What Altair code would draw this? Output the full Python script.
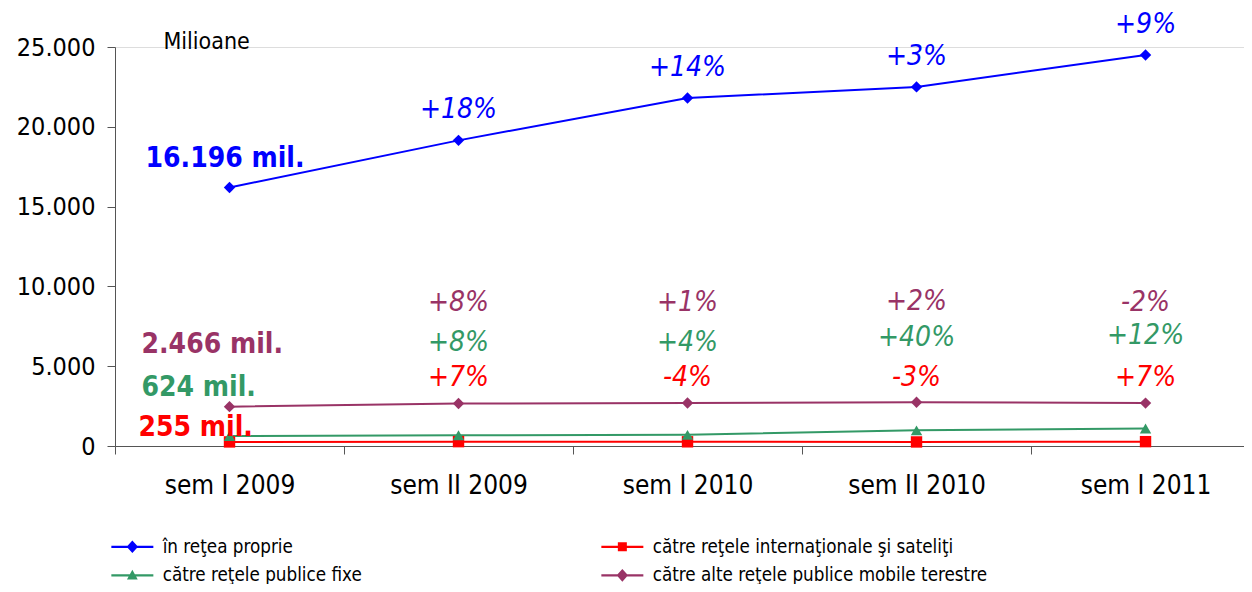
import json
import altair as alt
import pandas as pd

categories = ["sem I 2009", "sem II 2009", "sem I 2010", "sem II 2010", "sem I 2011"]
series = [
    "în reţea proprie",
    "către reţele internaţionale şi sateliţi",
    "către reţele publice fixe",
    "către alte reţele publice mobile terestre",
]
colors = ["#0000FF", "#FF0000", "#339966", "#993366"]

v_proprie = [16196, 19150, 21800, 22500, 24500]
v_internat = [255, 273, 262, 254, 272]
v_fixe = [624, 674, 701, 981, 1099]
v_mobile = [2466, 2663, 2690, 2744, 2689]

p_proprie = ["", "+18%", "+14%", "+3%", "+9%"]
p_internat = ["", "+7%", "-4%", "-3%", "+7%"]
p_fixe = ["", "+8%", "+4%", "+40%", "+12%"]
p_mobile = ["", "+8%", "+1%", "+2%", "-2%"]

values = [v_proprie, v_internat, v_fixe, v_mobile]
pcts = [p_proprie, p_internat, p_fixe, p_mobile]

rows = []
for s, vals, pc in zip(series, values, pcts):
    for i, (v, p) in enumerate(zip(vals, pc)):
        start = (f"{v:,}".replace(",", ".") + " mil.") if i == 0 else ""
        rows.append({"serie": s, "idx": i, "cat": categories[i], "v": v, "pct": p, "start": start})
df = pd.DataFrame(rows)

FONT = "DejaVu Sans Condensed, DejaVu Sans"

cats_js = json.dumps(categories)
x_enc = alt.X(
    "idx:Q",
    scale=alt.Scale(domain=[-0.5, 4.43], nice=False, zero=False),
    axis=alt.Axis(
        title=None,
        values=[-0.5, 0, 0.5, 1, 1.5, 2, 2.5, 3, 3.5, 4],
        labelExpr=f"datum.value % 1 === 0 ? {cats_js}[datum.value] : ''",
        tickOpacity={"condition": {"test": "datum.value % 1 !== 0", "value": 1}, "value": 0},
        tickSize=8,
        tickColor="#555555",
        domainColor="#555555",
        labelFontSize=26,
        labelFont=FONT,
        labelColor="#000000",
        labelPadding=18,
        grid=False,
        labelFlush=False,
        labelOverlap=False,
    ),
)
y_enc = alt.Y(
    "v:Q",
    scale=alt.Scale(domain=[0, 25000], nice=False),
    axis=alt.Axis(
        title="Milioane",
        titleAngle=0,
        titleAlign="left",
        titleBaseline="middle",
        titleX=48,
        titleY=-6,
        titleFontSize=23,
        titleFontWeight="normal",
        titleFont=FONT,
        values=[0, 5000, 10000, 15000, 20000, 25000],
        labelExpr="replace(format(datum.value, ','), ',', '.')",
        tickSize=8,
        tickColor="#555555",
        domainColor="#555555",
        labelFontSize=25,
        labelFont=FONT,
        labelColor="#000000",
        labelPadding=12,
        grid=False,
    ),
)

color_scale = alt.Scale(domain=series, range=colors)
shape_scale = alt.Scale(domain=series, range=["diamond", "square", "triangle-up", "diamond"])

base = alt.Chart(df)

lines = base.mark_line(strokeWidth=2).encode(
    x=x_enc, y=y_enc,
    color=alt.Color("serie:N", scale=color_scale, legend=None),
    detail="serie:N",
)
points = base.mark_point(filled=True, size=130, opacity=1).encode(
    x="idx:Q", y="v:Q",
    color=alt.Color("serie:N", scale=color_scale, legend=None),
    shape=alt.Shape("serie:N", scale=shape_scale, legend=None),
)

# legend symbols: unit = 6 px (symbolSize 144); line spans 42 px to the right of the symbol start
line_part = "M-1,-0.18L6,-0.18L6,0.18L-1,0.18Z"
leg_paths = [
    line_part + "M2.5,-1.05L3.45,0L2.5,1.05L1.55,0Z",
    line_part + "M1.75,-0.75L3.25,-0.75L3.25,0.75L1.75,0.75Z",
    line_part + "M2.5,-0.95L3.4,0.7L1.6,0.7Z",
    line_part + "M2.5,-1.05L3.45,0L2.5,1.05L1.55,0Z",
]
leg_common = dict(
    title=None,
    orient="none",
    legendX=-7,
    legendY=490,
    direction="horizontal",
    columns=2,
    columnPadding=236,
    rowPadding=9,
    symbolSize=144,
    symbolStrokeWidth=0,
    labelFontSize=18.7,
    labelFont=FONT,
    labelColor="#000000",
    labelOffset=36,
    labelLimit=600,
)
legend_layer = base.mark_point(filled=True, opacity=1).encode(
    x="idx:Q", y="v:Q",
    color=alt.Color("serie:N", scale=alt.Scale(domain=series, range=colors), legend=alt.Legend(**leg_common)),
    shape=alt.Shape("serie:N", scale=alt.Scale(domain=series, range=leg_paths), legend=alt.Legend(**leg_common)),
).transform_filter("false")

dys = [-30, -64, -92, -100]
pct_layers = []
for s, c, dy in zip(series, colors, dys):
    pct_layers.append(
        base.transform_filter(alt.datum.serie == s).mark_text(
            fontSize=28, fontStyle="italic", font=FONT, color=c, dy=dy, baseline="middle", align="center"
        ).encode(x="idx:Q", y="v:Q", text="pct:N")
    )

start_dx = [-84, -91, -88, -88]
start_dy = [-29, -14, -48, -62]
start_layers = []
for s, c, dx, dy in zip(series, colors, start_dx, start_dy):
    start_layers.append(
        base.transform_filter((alt.datum.serie == s) & (alt.datum.idx == 0)).mark_text(
            fontSize=28, fontWeight="bold", font=FONT, color=c, dx=dx, dy=dy, baseline="middle", align="left"
        ).encode(x="idx:Q", y="v:Q", text="start:N")
    )

chart = alt.layer(
    lines, points, *pct_layers, *start_layers, legend_layer
).resolve_scale(
    color="independent", shape="independent"
).properties(
    width=1129,
    height=399,
    padding={"left": 107, "top": 39, "right": 0, "bottom": 138},
    autosize=alt.AutoSizeParams(type="none"),
).configure_view(stroke=None).configure(background="white")

chart.save("out.html", embed_options={"renderer": "svg", "actions": False})
